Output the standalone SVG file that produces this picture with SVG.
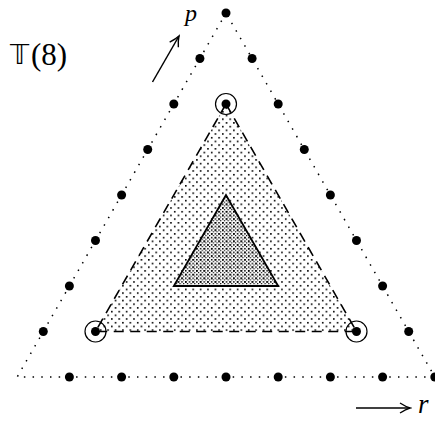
<svg xmlns="http://www.w3.org/2000/svg" width="435" height="421" viewBox="0 0 435 421">
<style>
.dotted{fill:none;stroke:#000;stroke-width:1.5;stroke-dasharray:1.5 7.2}
.pt{fill:#000}
.ring{fill:none;stroke:#000;stroke-width:1.2}
.arr{fill:none;stroke:#000;stroke-width:1.5}
</style>
<defs>
<pattern id="stipLight" patternUnits="userSpaceOnUse" width="7.4" height="7.4">
<rect x="0" y="0" width="1.6" height="1.6" fill="#000"/>
<rect x="3.7" y="3.7" width="1.6" height="1.6" fill="#000"/>
</pattern>
<pattern id="stipDense" patternUnits="userSpaceOnUse" width="3.7" height="3.7">
<rect x="0" y="0" width="1.5" height="1.5" fill="#000"/>
<rect x="1.85" y="1.85" width="1.2" height="1.2" fill="#000"/>
</pattern>
<marker id="head" viewBox="-12 -7 14 14" markerWidth="14" markerHeight="14" refX="0" refY="0" orient="auto" markerUnits="userSpaceOnUse">
<path d="M-10,-5 Q-4,-1.2 0,0 Q-4,1.2 -10,5" fill="none" stroke="#000" stroke-width="1.4"/>
</marker>
</defs>

<g id="outer-triangle">
<polygon class="dotted" points="226,13 17.2,377 434.8,377"/>
</g>

<g id="region-dashed">
<polygon points="226,104 95.5,331.5 356.5,331.5" fill="url(#stipLight)" stroke="#000" stroke-width="1.6" stroke-dasharray="10 6.5"/>
</g>

<g id="region-inner">
<polygon points="226,195 173.8,286 278.2,286" fill="url(#stipDense)" stroke="#000" stroke-width="1.8"/>
</g>

<g id="lattice-points">
<circle class="pt" cx="226" cy="13" r="4.5"/>
<circle class="pt" cx="199.9" cy="58.5" r="4.5"/>
<circle class="pt" cx="173.8" cy="104" r="4.5"/>
<circle class="pt" cx="147.7" cy="149.5" r="4.5"/>
<circle class="pt" cx="121.6" cy="195" r="4.5"/>
<circle class="pt" cx="95.5" cy="240.5" r="4.5"/>
<circle class="pt" cx="69.4" cy="286" r="4.5"/>
<circle class="pt" cx="43.3" cy="331.5" r="4.5"/>
<circle class="pt" cx="252.1" cy="58.5" r="4.5"/>
<circle class="pt" cx="278.2" cy="104" r="4.5"/>
<circle class="pt" cx="304.3" cy="149.5" r="4.5"/>
<circle class="pt" cx="330.4" cy="195" r="4.5"/>
<circle class="pt" cx="356.5" cy="240.5" r="4.5"/>
<circle class="pt" cx="382.6" cy="286" r="4.5"/>
<circle class="pt" cx="408.7" cy="331.5" r="4.5"/>
<circle class="pt" cx="69.4" cy="377" r="4.5"/>
<circle class="pt" cx="121.6" cy="377" r="4.5"/>
<circle class="pt" cx="173.8" cy="377" r="4.5"/>
<circle class="pt" cx="226" cy="377" r="4.5"/>
<circle class="pt" cx="278.2" cy="377" r="4.5"/>
<circle class="pt" cx="330.4" cy="377" r="4.5"/>
<circle class="pt" cx="382.6" cy="377" r="4.5"/>
<circle class="pt" cx="434.8" cy="377" r="4.5"/>
</g>

<g id="circled-points">
<circle class="pt" cx="226" cy="104" r="4.5"/>
<circle class="ring" cx="226" cy="104" r="10.5"/>
<circle class="pt" cx="95.5" cy="331.5" r="4.5"/>
<circle class="ring" cx="95.5" cy="331.5" r="10.5"/>
<circle class="pt" cx="356.5" cy="331.5" r="4.5"/>
<circle class="ring" cx="356.5" cy="331.5" r="10.5"/>
</g>

<g id="connectors">
<line class="arr" x1="152.5" y1="82" x2="179" y2="36" marker-end="url(#head)"/>
<line class="arr" x1="356" y1="408" x2="410" y2="408" marker-end="url(#head)"/>
</g>

<g id="labels">
<text x="10" y="64" style="font-family:'DejaVu Sans',sans-serif;font-size:27px" fill="#000">𝕋</text>
<text x="31" y="65" style="font-family:'Liberation Serif',serif;font-size:31px" fill="#000">(8)</text>
<text x="185" y="21" style="font-family:'Liberation Serif',serif;font-size:24px;font-style:italic" fill="#000">p</text>
<text x="418" y="413" style="font-family:'Liberation Serif',serif;font-size:27px;font-style:italic" fill="#000">r</text>
</g>
</svg>
